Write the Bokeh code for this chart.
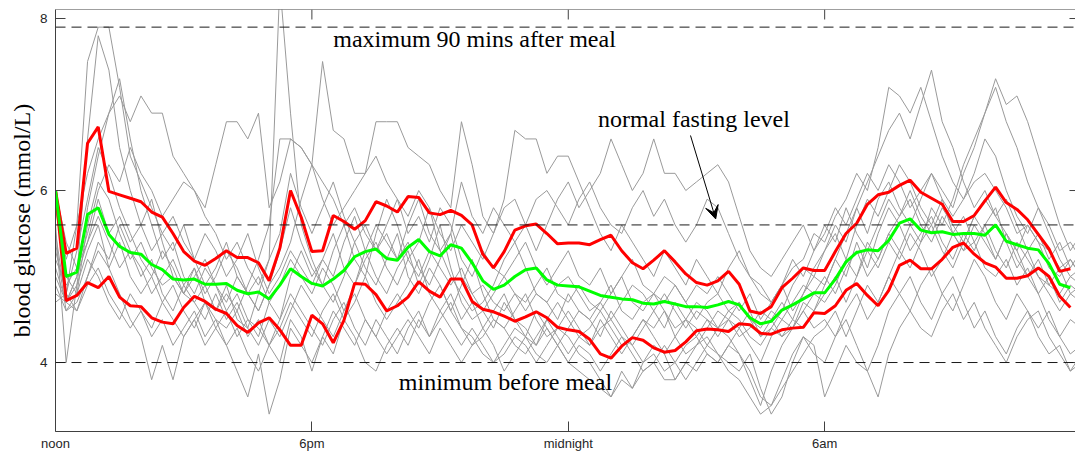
from bokeh.plotting import figure
from bokeh.models import Range1d, FixedTicker, Label, Arrow, VeeHead, Span
from bokeh.embed import file_html
from bokeh.resources import INLINE

# ---------------- data ----------------
x_tick_pos = [0, 6, 12, 18]
x_tick_labels = ["noon", "6pm", "midnight", "6am"]
y_tick_pos = [4, 6, 8]

ref_levels = [7.9, 5.6, 4.0]          # max after meal, normal fasting, min before meal

# 15-minute sampling (hours after noon)
stat_hours = [i * 0.25 for i in range(96)]
day_hours = [i * 0.25 for i in range(97)]

upper_band = [
    6.00, 5.27, 5.33, 6.55, 6.74, 5.99, 5.95, 5.91, 5.87, 5.75, 5.69, 5.50, 5.29, 5.18, 5.13, 5.21,
    5.30, 5.22, 5.22, 5.16, 4.95, 5.33, 6.00, 5.69, 5.29,
    5.30, 5.71, 5.64, 5.55, 5.65, 5.87, 5.82, 5.75, 5.93, 5.92, 5.74, 5.72, 5.77, 5.71, 5.60, 5.26,
    5.10, 5.29, 5.54, 5.59, 5.61, 5.50, 5.38, 5.39,
    5.39, 5.37, 5.43, 5.48, 5.30, 5.16, 5.09, 5.19, 5.30, 5.17, 5.03, 4.93, 4.90, 4.95, 5.06, 4.91,
    4.60, 4.57, 4.65, 4.87, 4.98, 5.10, 5.07, 5.07,
    5.29, 5.50, 5.62, 5.84, 5.95, 5.98, 6.06, 6.12, 5.98, 5.91, 5.84, 5.64, 5.64, 5.71, 5.88, 6.04,
    5.86, 5.78, 5.66, 5.49, 5.32, 5.06, 5.09,
]
lower_band = [
    6.00, 4.72, 4.78, 4.93, 4.87, 5.00, 4.76, 4.66, 4.65, 4.52, 4.47, 4.45, 4.64, 4.77, 4.71, 4.62,
    4.57, 4.43, 4.35, 4.46, 4.52, 4.38, 4.20, 4.20, 4.55,
    4.45, 4.23, 4.49, 4.92, 4.91, 4.79, 4.60, 4.66, 4.76, 4.94, 4.83, 4.76, 4.97, 4.97, 4.71, 4.62,
    4.59, 4.54, 4.48, 4.53, 4.59, 4.52, 4.41, 4.38,
    4.36, 4.27, 4.10, 4.05, 4.19, 4.29, 4.26, 4.17, 4.12, 4.14, 4.24, 4.37, 4.39, 4.38, 4.36, 4.45,
    4.44, 4.34, 4.33, 4.38, 4.40, 4.41, 4.58, 4.57,
    4.66, 4.84, 4.92, 4.78, 4.66, 4.84, 5.13, 5.19, 5.09, 5.09, 5.20, 5.34, 5.39, 5.26, 5.16, 5.11,
    4.98, 4.98, 5.01, 5.10, 5.00, 4.77, 4.64,
]
median_line = [
    6.00, 5.00, 5.05, 5.72, 5.80, 5.49, 5.35, 5.28, 5.26, 5.14, 5.08, 4.97, 4.96, 4.97, 4.91, 4.91,
    4.92, 4.84, 4.80, 4.82, 4.74, 4.90, 5.09, 5.00, 4.92,
    4.89, 4.97, 5.07, 5.23, 5.29, 5.32, 5.21, 5.19, 5.34, 5.43, 5.29, 5.24, 5.37, 5.33, 5.16, 4.95,
    4.85, 4.90, 5.00, 5.08, 5.10, 4.96, 4.90, 4.89,
    4.88, 4.83, 4.78, 4.76, 4.74, 4.73, 4.69, 4.68, 4.71, 4.68, 4.65, 4.65, 4.64, 4.67, 4.71, 4.67,
    4.52, 4.45, 4.48, 4.61, 4.67, 4.74, 4.81, 4.81,
    4.97, 5.17, 5.28, 5.31, 5.30, 5.42, 5.62, 5.67, 5.54, 5.51, 5.52, 5.49, 5.50, 5.50, 5.48, 5.60,
    5.41, 5.37, 5.33, 5.31, 5.15, 4.91, 4.87,
]

# individual days (grey traces)
day01 = [5.9, 4.8, 5.6, 7.5, 7.9, 7.9, 7.2, 6.4, 6.1, 5.8, 5.5, 5.3, 5.6, 5.2, 4.9, 5.1,
         5.4, 5.0, 4.8, 4.6, 4.9, 5.3, 5.8, 5.4, 5.1, 4.9, 5.3, 5.6, 5.2, 5.0, 5.5, 5.9,
         5.6, 5.2, 5.4, 5.8, 5.3, 5.0, 4.8, 4.6, 4.7, 4.9, 5.2, 5.4, 5.1, 4.8, 4.7, 4.9,
         5.0, 4.8, 4.6, 4.7, 4.9, 4.6, 4.5, 4.7, 4.8, 4.6, 4.4, 4.5, 4.7, 4.6, 4.4, 4.5,
         4.7, 4.5, 4.3, 4.4, 4.6, 4.9, 5.1, 5.0, 5.3, 5.5, 5.2, 5.6, 5.9, 5.7, 6.0, 6.3,
         6.1, 5.8, 5.6, 5.9, 5.5, 5.3, 5.6, 5.4, 5.2, 5.5, 5.3, 5.0, 5.2, 4.9, 4.8, 5.0, 5.1]
day02 = [5.5, 4.7, 5.0, 6.6, 7.8, 7.4, 6.5, 6.0, 5.6, 5.9, 5.4, 5.0, 4.8, 5.1, 4.7, 4.6,
         4.9, 4.5, 4.4, 4.8, 5.2, 8.4, 6.9, 5.6, 5.2, 4.9, 4.7, 5.0, 5.4, 5.1, 4.9, 5.2,
         5.5, 5.0, 4.8, 5.1, 4.9, 4.6, 4.9, 5.2, 4.8, 4.5, 4.4, 4.6, 4.8, 4.5, 4.3, 4.4,
         4.6, 4.4, 4.2, 4.5, 4.3, 4.1, 4.3, 4.5, 4.4, 4.6, 4.3, 4.1, 4.2, 4.4, 4.6, 4.5,
         4.3, 4.4, 4.6, 4.5, 4.7, 4.5, 4.8, 5.0, 4.9, 5.2, 5.0, 5.4, 5.1, 5.5, 5.8, 5.6,
         5.3, 5.5, 5.7, 5.4, 5.2, 5.5, 5.3, 5.6, 5.8, 5.4, 5.1, 5.3, 5.0, 4.8, 4.6, 4.8, 4.7]
day03 = [5.2, 4.9, 5.1, 5.5, 6.0, 6.3, 6.1, 6.5, 6.2, 6.0, 5.7, 5.9, 6.1, 6.0, 5.8, 6.3,
         6.8, 6.8, 6.6, 6.9, 5.8, 6.1, 6.6, 6.5, 6.3, 5.9, 5.6, 5.8, 6.0, 6.2, 6.4, 6.1,
         5.9, 5.7, 6.0, 5.8, 5.5, 5.3, 5.6, 5.4, 5.2, 5.5, 5.8, 5.9, 5.6, 5.3, 5.6, 5.9,
         6.1, 5.8, 6.0, 6.2, 6.6, 6.3, 6.0, 6.2, 6.6, 6.2, 6.2, 6.0, 6.1, 6.2, 6.3, 6.1,
         5.7, 5.3, 5.1, 5.0, 5.2, 5.4, 5.6, 5.3, 5.5, 5.8, 5.6, 5.9, 6.2, 6.0, 6.3, 6.1,
         5.8, 6.0, 6.2, 5.9, 5.7, 5.9, 6.1, 6.2, 6.0, 5.8, 5.5, 5.6, 5.4, 5.3, 5.1, 5.2, 5.0]
day04 = [4.9, 4.6, 4.8, 5.2, 5.0, 4.7, 4.5, 4.8, 4.6, 4.3, 4.5, 4.2, 4.4, 4.6, 4.3, 4.5,
         4.2, 3.9, 3.6, 4.1, 3.4, 3.8, 4.4, 4.2, 4.0, 4.3, 4.1, 4.5, 4.3, 4.0, 3.9, 4.2,
         4.4, 4.2, 4.5, 4.3, 4.6, 4.4, 4.2, 4.4, 4.2, 4.0, 4.1, 4.3, 4.2, 4.0, 4.2, 4.4,
         4.3, 4.1, 4.0, 3.8, 3.6, 3.9, 3.7, 4.0, 4.2, 4.1, 3.8, 4.0, 4.2, 4.3, 4.1, 4.0,
         3.9, 4.1, 3.7, 3.4, 3.6, 4.0, 4.3, 4.2, 3.6, 3.9, 4.2, 4.0, 3.9, 3.6, 4.1, 4.4,
         4.6, 4.4, 4.3, 4.6, 4.8, 4.5, 4.7, 4.4, 4.2, 4.0, 4.3, 4.5, 4.6, 4.3, 4.1, 3.9, 4.0]
day05 = [5.8, 5.0, 4.8, 5.6, 6.1, 5.9, 5.5, 5.2, 5.4, 5.1, 4.9, 5.0, 4.8, 4.7, 4.9, 4.6,
         4.8, 4.6, 4.9, 5.2, 5.6, 6.6, 6.6, 6.5, 6.3, 6.1, 5.9, 5.6, 5.8, 5.5, 5.3, 5.5,
         5.2, 5.4, 5.1, 4.9, 5.2, 5.5, 5.0, 4.8, 4.9, 4.7, 4.6, 4.8, 4.7, 4.9, 5.1, 4.8,
         4.7, 4.9, 4.7, 4.6, 4.8, 5.0, 4.7, 4.6, 4.8, 4.7, 4.9, 4.7, 4.5, 4.7, 4.8, 4.6,
         4.7, 4.5, 4.4, 4.6, 4.5, 4.7, 4.9, 4.8, 5.0, 4.8, 5.1, 5.3, 5.0, 5.2, 5.5, 5.7,
         5.9, 5.6, 5.4, 5.7, 5.5, 5.3, 5.4, 5.6, 5.3, 5.1, 5.4, 5.2, 5.0, 4.9, 5.1, 4.8, 4.9]
day06 = [5.3, 4.8, 5.3, 5.9, 6.5, 6.2, 5.8, 5.5, 5.2, 5.0, 5.3, 5.1, 4.8, 5.0, 5.2, 4.9,
         4.7, 5.0, 4.8, 4.6, 4.9, 5.1, 5.4, 5.9, 6.3, 7.5, 6.7, 6.6, 6.2, 6.2, 6.8, 6.8,
         6.8, 6.5, 6.4, 6.3, 6.0, 5.8, 6.8, 6.3, 5.7, 5.5, 5.9, 6.7, 6.6, 6.6, 6.2, 6.4,
         6.4, 6.1, 5.8, 5.5, 5.3, 5.6, 5.4, 5.2, 5.0, 5.3, 5.1, 4.9, 5.2, 5.0, 4.8, 5.1,
         5.3, 5.0, 4.8, 4.7, 4.9, 5.1, 5.2, 5.5, 5.4, 5.7, 5.9, 6.2, 6.0, 6.5, 7.2, 7.1,
         6.9, 7.2, 6.8, 6.4, 6.1, 5.9, 6.2, 6.6, 6.4, 6.0, 5.7, 5.5, 5.8, 5.6, 5.3, 5.4, 5.2]
day07 = [5.0, 4.7, 4.9, 5.3, 5.6, 5.1, 4.8, 4.5, 4.3, 3.8, 4.2, 3.8, 4.3, 4.5, 4.2, 4.4,
         4.6, 4.3, 4.5, 4.4, 4.2, 4.5, 4.8, 4.6, 4.4, 4.2, 4.5, 4.7, 4.4, 4.2, 4.5, 4.3,
         4.1, 4.4, 4.6, 4.3, 4.5, 4.7, 4.4, 4.2, 4.3, 4.5, 4.4, 4.2, 4.1, 4.3, 4.5, 4.3,
         4.1, 4.3, 4.2, 4.4, 4.5, 4.3, 4.2, 4.0, 4.1, 3.9, 4.0, 4.2, 4.3, 4.1, 4.0, 4.2,
         4.4, 4.2, 4.0, 4.3, 4.5, 4.4, 4.6, 4.4, 4.5, 4.3, 4.6, 4.8, 4.5, 4.7, 5.0, 4.8,
         4.6, 4.9, 5.1, 4.8, 4.6, 4.9, 5.2, 5.0, 4.7, 4.5, 4.8, 4.6, 4.4, 4.6, 4.3, 4.5, 4.4]
day08 = [5.6, 4.0, 4.9, 5.8, 6.4, 6.9, 7.3, 6.6, 6.0, 5.6, 5.2, 5.4, 5.0, 4.8, 5.1, 4.9,
         4.6, 4.8, 4.5, 4.3, 4.7, 4.5, 5.0, 5.3, 5.0, 5.2, 5.5, 5.1, 4.9, 5.3, 5.0, 4.8,
         5.1, 5.3, 4.9, 5.2, 5.6, 5.1, 4.7, 4.5, 4.6, 4.4, 4.7, 4.5, 4.3, 4.6, 4.4, 4.2,
         4.4, 4.6, 4.5, 4.3, 4.6, 4.4, 4.2, 4.4, 4.6, 4.4, 4.7, 4.5, 4.3, 4.5, 4.4, 4.6,
         4.5, 4.3, 4.2, 4.4, 4.3, 4.5, 4.4, 4.6, 4.8, 5.0, 4.7, 5.0, 5.3, 5.1, 5.4, 5.2,
         5.5, 5.3, 5.0, 5.2, 5.5, 5.7, 5.4, 5.1, 5.0, 5.2, 4.9, 5.1, 4.8, 5.0, 4.7, 4.9, 4.8]
day09 = [5.9, 5.2, 5.6, 6.2, 6.6, 6.9, 7.1, 6.8, 7.1, 6.9, 6.9, 6.4, 6.2, 6.0, 5.7, 5.5,
         5.2, 5.4, 5.1, 4.9, 5.2, 5.5, 6.2, 5.8, 5.5, 5.8, 6.1, 5.7, 5.4, 5.6, 5.3, 5.6,
         5.9, 5.5, 5.7, 5.4, 5.8, 5.6, 5.2, 5.0, 5.3, 5.1, 5.0, 5.2, 5.4, 5.1, 4.9, 5.1,
         5.3, 5.0, 4.9, 5.1, 4.8, 5.0, 5.2, 4.9, 4.8, 5.0, 4.9, 4.7, 4.9, 4.8, 5.0, 4.8,
         4.6, 4.8, 4.5, 4.7, 4.9, 4.6, 4.8, 5.1, 5.3, 5.6, 5.4, 5.8, 5.5, 5.9, 6.1, 5.8,
         5.6, 5.9, 6.2, 6.0, 5.8, 6.2, 6.5, 6.9, 7.3, 7.0, 7.1, 6.8, 6.4, 6.0, 5.6, 5.3, 5.5]
day10 = [4.8, 4.7, 4.6, 5.0, 5.4, 5.2, 5.6, 5.3, 5.0, 5.2, 4.8, 4.6, 4.9, 4.7, 4.5, 4.8,
         4.5, 4.7, 4.4, 4.2, 4.5, 4.3, 4.6, 4.9, 4.7, 4.5, 4.3, 4.6, 4.8, 4.5, 4.3, 4.6,
         4.8, 4.6, 4.4, 4.7, 4.9, 4.6, 4.4, 4.3, 4.1, 4.0, 4.2, 4.4, 4.3, 4.1, 4.0, 4.2,
         4.0, 3.9, 3.8, 3.7, 3.6, 3.8, 3.7, 3.9, 4.0, 3.8, 3.8, 4.0, 3.9, 4.1, 4.0, 4.2,
         4.1, 3.9, 3.6, 3.5, 3.7, 3.9, 4.1, 4.3, 4.4, 4.6, 4.3, 4.6, 4.9, 4.7, 5.0, 5.3,
         5.1, 5.4, 5.6, 5.3, 5.1, 5.4, 5.7, 5.5, 5.2, 5.5, 5.3, 5.6, 5.4, 5.1, 5.0, 5.2, 5.0]
day11 = [6.0, 5.4, 5.1, 5.4, 5.9, 5.5, 5.7, 5.4, 5.6, 5.3, 5.5, 5.7, 5.4, 5.2, 5.5, 5.3,
         5.0, 5.2, 5.5, 5.1, 4.8, 5.0, 5.3, 5.1, 4.9, 5.2, 5.0, 5.4, 5.7, 5.3, 5.6, 5.4,
         5.2, 5.6, 5.9, 5.5, 5.3, 5.5, 6.1, 5.7, 5.5, 5.8, 5.6, 5.4, 5.6, 5.9, 6.0, 5.8,
         5.6, 5.9, 6.1, 5.8, 5.6, 5.5, 5.8, 6.0, 5.7, 5.9, 5.6, 5.4, 5.6, 5.9, 5.8, 5.5,
         5.2, 5.0, 4.9, 4.7, 4.9, 5.2, 5.0, 5.3, 5.6, 5.4, 5.8, 5.5, 5.3, 5.6, 5.9, 5.7,
         6.0, 5.7, 5.5, 5.8, 5.6, 5.4, 5.7, 5.9, 5.7, 5.9, 5.6, 5.3, 5.5, 5.2, 5.4, 5.1, 5.3]
day12 = [5.4, 4.6, 4.7, 5.0, 5.3, 5.1, 5.4, 5.0, 4.8, 5.0, 4.7, 4.9, 4.6, 4.4, 4.7, 4.5,
         4.4, 4.6, 4.3, 4.5, 4.2, 4.4, 4.7, 4.5, 4.3, 4.6, 4.8, 4.5, 4.7, 5.0, 4.7, 4.5,
         4.7, 4.9, 5.2, 4.8, 4.6, 4.8, 4.5, 4.7, 4.4, 4.6, 4.8, 4.5, 4.4, 4.2, 4.5, 4.7,
         4.5, 4.3, 4.4, 4.6, 4.4, 4.2, 4.3, 4.5, 4.3, 4.1, 4.3, 4.5, 4.4, 4.2, 4.4, 4.3,
         4.1, 3.8, 3.5, 3.9, 4.2, 4.4, 4.7, 4.6, 4.9, 5.2, 5.5, 5.8, 6.1, 6.4, 6.7, 6.9,
         6.6, 7.0, 7.4, 6.8, 6.5, 6.1, 5.8, 6.0, 5.7, 5.5, 5.2, 5.0, 4.8, 4.5, 4.3, 4.1, 4.2]
day13 = [5.1, 4.7, 5.0, 5.4, 5.7, 5.4, 5.1, 5.3, 5.1, 4.8, 5.0, 5.2, 4.9, 5.1, 4.8, 5.0,
         5.3, 5.1, 4.8, 5.0, 4.7, 4.9, 5.2, 5.0, 4.8, 5.1, 4.9, 4.6, 4.9, 5.2, 5.4, 5.1,
         4.9, 5.2, 5.0, 5.3, 5.1, 4.9, 5.1, 4.8, 4.6, 4.8, 5.0, 4.8, 4.6, 4.8, 4.7, 4.5,
         4.8, 4.6, 4.5, 4.7, 4.5, 4.7, 4.9, 4.8, 4.6, 4.8, 4.6, 4.4, 4.6, 4.5, 4.3, 4.5,
         4.4, 4.6, 4.3, 4.5, 4.3, 4.4, 4.6, 4.8, 4.7, 4.9, 5.2, 5.0, 5.4, 5.2, 5.5, 5.3,
         5.6, 5.4, 5.8, 5.6, 5.9, 6.3, 6.6, 6.9, 7.2, 6.8, 6.5, 6.1, 5.8, 5.5, 5.2, 5.0, 4.9]
day14 = [4.7, 4.8, 4.6, 4.9, 5.1, 4.8, 4.6, 4.4, 4.6, 4.4, 4.7, 4.5, 4.3, 4.5, 4.7, 4.4,
         4.2, 4.4, 4.1, 3.9, 4.2, 4.0, 4.5, 4.3, 3.9, 4.3, 4.6, 4.4, 4.2, 4.5, 4.3, 4.1,
         4.3, 4.5, 4.3, 4.1, 4.4, 4.2, 4.0, 4.2, 4.4, 4.2, 3.9, 4.1, 4.3, 4.2, 4.4, 4.2,
         4.0, 4.2, 4.1, 3.9, 4.1, 4.3, 4.1, 3.9, 4.0, 4.2, 4.0, 3.8, 4.0, 4.2, 4.1, 3.9,
         3.8, 3.6, 3.4, 3.5, 3.8, 4.1, 4.3, 4.1, 4.0, 4.3, 4.5, 4.2, 3.9, 4.2, 4.6, 4.8,
         5.0, 4.7, 4.5, 4.8, 5.0, 4.7, 4.4, 4.6, 4.3, 4.1, 4.4, 4.6, 4.3, 4.1, 4.2, 3.9, 4.1]

days = [day01, day02, day03, day04, day05, day06, day07,
        day08, day09, day10, day11, day12, day13, day14]

# ---------------- figure ----------------
X_END = 23.87
Y_START, Y_END = 3.198, 8.105
PX_PER_Y = 86.0
PX_PER_X = 42.73

p = figure(width=1075, height=453, output_backend="svg", toolbar_location=None,
           x_range=Range1d(0, X_END), y_range=Range1d(Y_START, Y_END),
           min_border_left=55, min_border_right=0, min_border_top=9, min_border_bottom=22)
p.outline_line_color = None
p.background_fill_color = "white"
p.border_fill_color = "white"
p.xgrid.grid_line_color = None
p.ygrid.grid_line_color = None

axis_col = "#404040"
tick_font = "Liberation Sans"
serif = "Liberation Serif"

xa = p.xaxis[0]
xa.ticker = FixedTicker(ticks=x_tick_pos)
xa.major_label_overrides = {float(k): v for k, v in zip(x_tick_pos, x_tick_labels)}
xa.major_tick_in = 10
xa.major_tick_out = 0
xa.minor_tick_line_color = None
xa.axis_line_color = axis_col
xa.major_tick_line_color = axis_col
xa.major_label_text_font = tick_font
xa.major_label_text_font_size = "13px"
xa.major_label_text_color = "#262626"
xa.major_label_standoff = 4

ya = p.yaxis[0]
ya.ticker = FixedTicker(ticks=y_tick_pos)
ya.major_tick_in = 10
ya.major_tick_out = 0
ya.minor_tick_line_color = None
ya.axis_line_color = axis_col
ya.major_tick_line_color = axis_col
ya.major_label_text_font = tick_font
ya.major_label_text_font_size = "13.5px"
ya.major_label_text_color = "#262626"
ya.major_label_standoff = 8
ya.axis_label = "blood glucose (mmol/L)"
ya.axis_label_text_font = serif
ya.axis_label_text_font_size = "24px"
ya.axis_label_text_font_style = "normal"
ya.axis_label_text_color = "black"
ya.axis_label_standoff = 2

# top spine with inward ticks, and inward ticks on the right edge
p.add_layout(Span(location=Y_END, dimension="width", line_color=axis_col, line_width=1))
p.segment(x0=x_tick_pos, y0=[Y_END] * len(x_tick_pos),
          x1=x_tick_pos, y1=[Y_END - 10 / PX_PER_Y] * len(x_tick_pos),
          line_color=axis_col, line_width=1)
p.segment(x0=[X_END - 6 / PX_PER_X] * len(y_tick_pos), y0=y_tick_pos,
          x1=[X_END] * len(y_tick_pos), y1=y_tick_pos,
          line_color=axis_col, line_width=1)

for d in days:
    p.line(day_hours[:len(d)], d, line_color="#9a9a9a", line_width=1)

for lv in ref_levels:
    p.add_layout(Span(location=lv, dimension="width", line_color="#1a1a1a",
                      line_width=1, line_dash="10 6"))

p.line(stat_hours[:len(upper_band)], upper_band, line_color="#ff0000", line_width=3)
p.line(stat_hours[:len(lower_band)], lower_band, line_color="#ff0000", line_width=3)
p.line(stat_hours[:len(median_line)], median_line, line_color="#00ff00", line_width=3)

p.add_layout(Label(x=9.806, y=7.76, text="maximum 90 mins after meal", text_align="center",
                   text_baseline="alphabetic", text_font=serif, text_font_size="24px",
                   text_color="black"))
p.add_layout(Label(x=14.94, y=6.83, text="normal fasting level", text_align="center",
                   text_baseline="alphabetic", text_font=serif, text_font_size="24px",
                   text_color="black"))
p.add_layout(Label(x=10.53, y=3.77, text="minimum before meal", text_align="center",
                   text_baseline="alphabetic", text_font=serif, text_font_size="24px",
                   text_color="black"))
p.add_layout(Arrow(end=VeeHead(size=13, fill_color="black", line_color="black"),
                   x_start=14.86, y_start=6.64, x_end=15.45, y_end=5.67,
                   line_color="black", line_width=1))

open("out.html", "w").write(file_html(p, INLINE))
